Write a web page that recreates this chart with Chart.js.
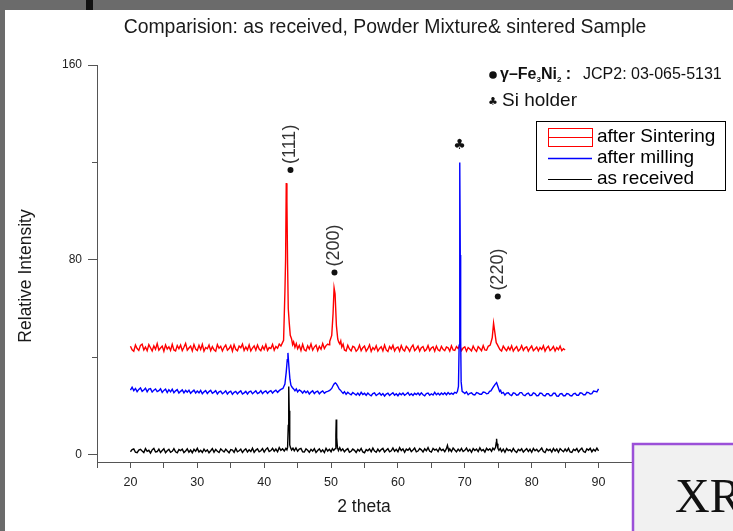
<!DOCTYPE html>
<html>
<head>
<meta charset="utf-8">
<script src="https://cdn.jsdelivr.net/npm/chart.js@4.4.1/dist/chart.umd.min.js"></script>
<style>
  html, body { margin: 0; padding: 0; background: #fff; }
  #wrap { position: relative; width: 733px; height: 531px; }
</style>
</head>
<body>
<div id="wrap"><canvas id="xrd" width="733" height="531"></canvas></div>
<script>
// 2 theta / relative intensity pairs
const asReceived = [
  [20,1.2],[20.25,2.1],[20.5,2.4],[20.75,1.0],[21,0.8],[21.25,1.9],[21.5,2.2],[21.75,1.5],[22,0.9],[22.25,2.5],
  [22.5,1.4],[22.75,1.8],[23,0.7],[23.25,2.0],[23.5,2.6],[23.75,1.1],[24,1.3],[24.25,2.3],[24.5,0.9],[24.75,1.7],
  [25,2.4],[25.25,0.8],[25.5,1.6],[25.75,2.2],[26,1.0],[26.25,1.4],[26.5,2.5],[26.75,1.2],[27,0.8],[27.25,2.1],
  [27.5,1.7],[27.75,2.3],[28,0.9],[28.25,1.5],[28.5,2.4],[28.75,1.0],[29,1.9],[29.25,0.8],[29.5,2.2],[29.75,1.4],
  [30,2.6],[30.25,1.1],[30.5,1.8],[30.75,0.9],[31,2.3],[31.25,1.3],[31.5,2.0],[31.75,0.8],[32,1.6],[32.25,2.5],
  [32.5,1.0],[32.75,2.2],[33,1.4],[33.25,0.9],[33.5,2.4],[33.75,1.7],[34,1.1],[34.25,2.3],[34.5,1.5],[34.75,0.8],
  [35,2.1],[35.25,1.9],[35.5,1.0],[35.75,2.6],[36,1.2],[36.25,1.6],[36.5,2.3],[36.75,0.9],[37,1.8],[37.25,2.4],
  [37.5,1.1],[37.75,2.0],[38,1.3],[38.25,2.7],[38.5,1.0],[38.75,1.9],[39,2.4],[39.25,1.2],[39.5,1.6],[39.75,2.5],
  [40,1.1],[40.25,2.2],[40.5,2.8],[40.75,1.3],[41,1.7],[41.25,2.6],[41.5,1.4],[41.75,2.3],[42,1.2],[42.25,2.9],
  [42.5,1.8],[42.75,2.4],[43,1.5],[43.25,2.6],[43.4,2.0],
  [43.5,3],[43.6,12],[43.67,28],[43.74,18],[43.82,4],[43.95,2.8],
  [44.1,1.9],[44.3,2.7],[44.5,1.6],[44.75,2.8],[45,1.4],[45.25,2.3],[45.5,2.6],[45.75,1.2],[46,1.1],[46.25,2.4],
  [46.5,1.8],[46.75,1.0],[47,2.2],[47.25,1.5],[47.5,2.5],[47.75,0.9],[48,1.7],[48.25,2.4],[48.5,1.2],[48.75,2.0],
  [49,0.9],[49.25,2.6],[49.5,1.5],[49.75,2.2],[50,1.2],[50.2,2.5],[50.4,1.8],
  [50.62,2.5],[50.72,8],[50.77,14.4],[50.84,7],[50.95,3],
  [51.1,1.7],[51.3,2.9],[51.5,1.6],[51.75,2.4],[52,1.2],[52.25,2.0],[52.5,2.5],[52.75,1.0],[53,1.4],[53.25,2.3],
  [53.5,1.8],[53.75,0.9],[54,2.2],[54.25,1.5],[54.5,2.6],[54.75,1.1],[55,0.8],[55.25,2.1],[55.5,1.6],[55.75,2.4],
  [56,1.2],[56.25,2.7],[56.5,1.5],[56.75,1.0],[57,2.3],[57.25,1.3],[57.5,2.1],[57.75,2.6],[58,1.1],[58.25,1.8],
  [58.5,2.5],[58.75,1.2],[59,1.6],[59.25,2.8],[59.5,1.4],[59.75,2.2],[60,1.2],[60.25,2.9],[60.5,1.7],[60.75,2.4],
  [61,1.0],[61.25,2.3],[61.5,1.8],[61.75,2.6],[62,1.3],[62.25,1.9],[62.5,2.7],[62.75,1.2],[63,1.5],[63.25,2.5],
  [63.5,2.0],[63.75,1.1],[64,2.4],[64.25,1.6],[64.5,2.9],[64.75,1.4],[65,1.1],[65.25,2.6],[65.5,1.9],[65.75,2.3],
  [66,1.3],[66.25,2.8],[66.5,1.7],[66.75,2.2],[67,1.2],[67.25,2.5],[67.4,3.8],[67.6,1.6],[67.75,2.4],[68,1.3],
  [68.25,2.7],[68.5,1.9],[68.75,1.2],[69,2.3],[69.25,1.5],[69.5,2.6],[69.75,1.3],[70,1.8],[70.25,2.7],[70.5,1.4],
  [70.75,2.2],[71,1.0],[71.25,2.5],[71.5,1.7],[71.75,2.3],[72,1.3],[72.25,2.8],[72.5,1.6],[72.75,2.1],[73,1.1],
  [73.25,2.6],[73.5,1.8],[73.75,2.4],[74,1.4],[74.2,2.7],[74.4,2.0],
  [74.6,3],[74.7,5],[74.75,6.5],[74.82,4.5],[74.95,2.6],
  [75.1,1.8],[75.3,2.6],[75.5,1.3],[75.75,2.3],[76,1.0],[76.25,2.5],[76.5,1.7],[76.75,2.1],[77,1.2],[77.25,2.6],
  [77.5,1.5],[77.75,0.9],[78,2.2],[78.25,1.6],[78.5,2.4],[78.75,1.1],[79,1.8],[79.25,2.5],[79.5,1.3],[79.75,2.2],
  [80,1.0],[80.25,2.6],[80.5,1.6],[80.75,2.2],[81,1.2],[81.25,1.9],[81.5,2.7],[81.75,1.3],[82,0.9],[82.25,2.4],
  [82.5,1.7],[82.75,2.2],[83,1.1],[83.25,2.6],[83.5,1.5],[83.75,2.3],[84,1.0],[84.25,2.5],[84.5,1.8],[84.75,1.2],
  [85,2.3],[85.25,1.4],[85.5,2.6],[85.75,1.1],[86,0.9],[86.25,2.2],[86.5,1.7],[86.75,2.5],[87,1.1],[87.25,2.0],
  [87.5,2.7],[87.75,1.3],[88,1.0],[88.25,2.4],[88.5,1.8],[88.75,2.6],[89,1.2],[89.25,2.2],[89.5,1.5],[89.75,2.7],[90,1.6]
];

const afterMilling = [
  [20,26.5],[20.25,27.7],[20.5,26.3],[20.75,27.2],[21,25.9],[21.25,26.8],[21.5,27.4],[21.75,26.0],[22,26.6],[22.25,27.3],
  [22.5,25.8],[22.75,26.9],[23,27.1],[23.25,25.7],[23.5,26.5],[23.75,27.0],[24,25.9],[24.25,26.3],[24.5,27.1],[24.75,25.6],
  [25,26.4],[25.25,26.9],[25.5,25.5],[25.75,26.7],[26,25.8],[26.25,26.9],[26.5,25.4],[26.75,26.2],[27,26.7],[27.25,25.3],
  [27.5,26.0],[27.75,26.6],[28,25.4],[28.25,26.4],[28.5,25.7],[28.75,26.5],[29,25.2],[29.25,25.9],[29.5,26.5],[29.75,25.3],
  [30,26.1],[30.25,25.4],[30.5,26.4],[30.75,25.0],[31,25.8],[31.25,26.3],[31.5,25.1],[31.75,25.9],[32,26.4],[32.25,25.2],
  [32.5,25.7],[32.75,26.3],[33,24.9],[33.25,25.8],[33.5,26.1],[33.75,25.0],[34,25.5],[34.25,26.2],[34.5,24.9],[34.75,25.7],
  [35,26.1],[35.25,24.8],[35.5,25.6],[35.75,26.0],[36,25.0],[36.25,25.7],[36.5,26.2],[36.75,24.9],[37,25.4],[37.25,26.0],
  [37.5,24.9],[37.75,25.8],[38,26.1],[38.25,25.0],[38.5,25.6],[38.75,26.2],[39,25.1],[39.25,25.5],[39.5,26.3],[39.75,25.1],
  [40,25.8],[40.25,26.2],[40.5,25.2],[40.75,25.9],[41,26.3],[41.25,25.3],[41.5,26.0],[41.75,26.5],[42,25.6],[42.25,26.3],[42.5,26.8],
  [42.8,27.2],[43.1,29],[43.3,34],[43.45,39],[43.55,41.8],[43.7,36],[43.85,31],[44,28.5],[44.2,27.6],[44.4,27],
  [44.6,26.2],[44.8,27],[45,25.8],[45.25,26.6],[45.5,26.1],[45.75,25.3],[46,26.2],[46.25,25.4],[46.5,26.1],[46.75,24.9],
  [47,25.7],[47.25,26.2],[47.5,25.1],[47.75,25.8],[48,26.1],[48.25,25.0],[48.5,25.7],[48.75,26.2],[49,25.2],[49.25,25.8],[49.5,26.0],
  [49.8,26.4],[50.1,27.2],[50.35,28.6],[50.5,29.2],[50.65,29.5],[50.8,29.1],[50.95,28.4],[51.2,27],[51.4,26.5],[51.6,25.8],
  [51.8,25.2],[52,25.9],[52.25,24.8],[52.5,25.6],[52.75,25.0],[53,24.6],[53.25,25.5],[53.5,25.0],[53.75,24.5],[54,25.3],
  [54.25,24.4],[54.5,25.6],[54.75,24.7],[55,25.2],[55.25,24.4],[55.5,25.3],[55.75,24.6],[56,24.2],[56.25,25.1],[56.5,25.4],
  [56.75,24.3],[57,24.8],[57.25,25.3],[57.5,24.4],[57.75,25.1],[58,24.1],[58.25,24.9],[58.5,25.3],[58.75,24.3],[59,24.9],
  [59.25,25.4],[59.5,24.4],[59.75,25.0],[60,24.2],[60.25,25.2],[60.5,24.6],[60.75,25.3],[61,24.4],[61.25,24.9],[61.5,25.5],
  [61.75,24.4],[62,25.0],[62.25,24.3],[62.5,25.2],[62.75,24.7],[63,25.3],[63.25,24.5],[63.5,25.4],[63.75,24.6],[64,24.2],
  [64.25,25.1],[64.5,25.3],[64.75,24.4],[65,25.0],[65.25,24.5],[65.5,25.6],[65.75,24.6],[66,25.2],[66.25,24.5],[66.5,25.3],
  [66.75,24.7],[67,25.4],[67.25,24.6],[67.5,25.5],[67.75,24.8],[68,25.3],[68.25,24.8],[68.5,25.6],[68.75,25.3],
  [68.9,26],[69.05,28],[69.15,45],[69.22,65],[69.27,120],[69.32,82],[69.38,48],[69.45,30],[69.6,26],
  [69.8,25.6],[70,25.1],[70.25,25.8],[70.5,24.6],[70.75,25.2],[71,25.4],[71.25,24.7],[71.5,24.5],[71.75,25.5],[72,25.3],
  [72.25,24.8],[72.5,24.8],[72.75,25.7],[73,25.6],[73.25,25.0],[73.5,25.2],[73.7,26.0],
  [73.9,26.2],[74.2,27.5],[74.5,28.8],[74.75,29.6],[74.95,28],[75.2,26],[75.35,26.4],[75.5,25.2],
  [75.75,25.6],[76,24.5],[76.25,25.3],[76.5,25.4],[76.75,24.6],[77,24.3],[77.25,25.4],[77.5,25.2],[77.75,24.4],[78,24.6],
  [78.25,25.5],[78.5,25.5],[78.75,24.5],[79,24.2],[79.25,25.0],[79.5,25.3],[79.75,24.3],[80,24.4],[80.25,25.4],[80.5,25.1],
  [80.75,24.2],[81,24.3],[81.25,25.3],[81.5,25.2],[81.75,24.3],[82,24.1],[82.25,25.0],[82.5,25],[82.75,24.2],[83,24.3],
  [83.25,25.2],[83.5,25.2],[83.75,24.1],[84,24],[84.25,25.0],[84.5,25.1],[84.75,24.2],[85,24.2],[85.25,25.1],[85.5,25],
  [85.75,24.3],[86,24.1],[86.25,25.0],[86.5,25.2],[86.75,24.4],[87,24.4],[87.25,25.4],[87.5,25.3],[87.75,24.6],[88,24.6],
  [88.25,25.6],[88.5,25.5],[88.75,24.9],[89,25.1],[89.25,26.1],[89.5,26],[89.75,25.8],[90,27]
];

const afterSintering = [
  [20,44.5],[20.25,43.1],[20.5,42.5],[20.75,45.0],[21,43.6],[21.25,42.8],[21.5,44.9],[21.75,45.4],[22,43.0],[22.25,44.2],
  [22.5,42.7],[22.75,45.2],[23,43.9],[23.25,42.6],[23.5,44.7],[23.75,43.3],[24,45.6],[24.25,42.9],[24.5,43.8],[24.75,44.6],
  [25,42.5],[25.25,45.1],[25.5,43.4],[25.75,44.3],[26,42.8],[26.25,45.3],[26.5,43.0],[26.75,42.6],[27,44.8],[27.25,43.5],
  [27.5,45.0],[27.75,42.7],[28,44.1],[28.25,45.7],[28.5,42.9],[28.75,43.8],[29,44.6],[29.25,42.6],[29.5,45.2],[29.75,43.4],
  [30,42.8],[30.25,44.9],[30.5,43.2],[30.75,45.3],[31,42.5],[31.25,44.0],[31.5,43.5],[31.75,45.0],[32,42.7],[32.25,44.4],
  [32.5,43.1],[32.75,42.5],[33,45.2],[33.25,43.7],[33.5,44.5],[33.75,42.6],[34,44.1],[34.25,45.0],[34.5,42.9],[34.75,43.6],
  [35,44.8],[35.25,42.5],[35.5,45.1],[35.75,43.3],[36,42.7],[36.25,44.6],[36.5,43.9],[36.75,45.4],[37,42.8],[37.25,44.2],
  [37.5,43.0],[37.75,45.1],[38,42.6],[38.25,43.8],[38.5,44.7],[38.75,42.9],[39,45.0],[39.25,43.4],[39.5,42.7],[39.75,44.5],
  [40,43.2],[40.25,45.2],[40.5,42.8],[40.75,44.0],[41,43.6],[41.25,45.3],[41.5,42.9],[41.75,44.4],[42,43.7],[42.25,45.4],
  [42.5,44.6],[42.7,45.8],
  [42.9,47],[43.1,67],[43.2,80],[43.3,111.5],[43.4,104],[43.5,78],[43.6,60],[43.75,54],[43.9,49],[44.1,47.5],
  [44.25,45.2],[44.4,46.3],[44.6,44.1],
  [44.8,45.6],[45,43.5],[45.25,44.9],[45.5,42.8],[45.75,45.3],[46,43.1],[46.25,42.6],[46.5,44.7],[46.75,43.4],[47,45.5],
  [47.25,42.9],[47.5,44.2],[47.75,45.0],[48,42.7],[48.25,44.5],[48.5,43.3],[48.75,45.6],[49,43.6],[49.25,44.8],[49.5,45.4],
  [49.7,45.1],[49.8,46.5],[50.1,49],[50.3,58],[50.45,68.5],[50.6,66],[50.8,53],[51,47.5],[51.15,46.2],[51.3,45.5],[51.45,46.7],
  [51.6,44.2],[51.8,45.4],[52,43.0],[52.25,42.6],[52.5,44.9],[52.75,43.4],[53,42.6],[53.25,44.5],[53.5,44.1],[53.75,42.5],
  [54,43.2],[54.25,45.0],[54.5,42.7],[54.75,43.9],[55,44.6],[55.25,42.5],[55.5,43.5],[55.75,45.1],[56,42.4],[56.25,44.0],
  [56.5,43.1],[56.75,44.7],[57,42.5],[57.25,43.6],[57.5,44.3],[57.75,42.6],[58,45.0],[58.25,43.0],[58.5,42.4],[58.75,44.4],
  [59,43.4],[59.25,44.9],[59.5,42.6],[59.75,43.8],[60,44.2],[60.25,42.5],[60.5,44.8],[60.75,43.2],[61,42.6],[61.25,44.5],
  [61.5,43.7],[61.75,42.4],[62,44.1],[62.25,45.0],[62.5,42.7],[62.75,43.5],[63,44.6],[63.25,42.5],[63.5,43.9],[63.75,44.4],
  [64,42.6],[64.25,43.2],[64.5,44.8],[64.75,42.7],[65,43.8],[65.25,44.3],[65.5,42.5],[65.75,44.6],[66,43.1],[66.25,42.6],
  [66.5,44.5],[66.75,43.3],[67,42.7],[67.25,44.2],[67.5,43.9],[67.75,42.5],[68,44.7],[68.25,43.0],[68.5,42.8],[68.75,44.4],
  [69,43.6],[69.25,44.9],[69.5,42.7],[69.75,43.8],[70,44.3],[70.25,42.5],[70.5,44.0],[70.75,43.4],[71,42.6],[71.25,44.6],
  [71.5,43.2],[71.75,42.4],[72,44.4],[72.25,43.6],[72.5,42.7],[72.75,44.8],[73,43.0],[73.25,42.9],[73.5,44.5],
  [73.8,45],[74.1,48],[74.3,54],[74.5,50],[74.7,46],[74.85,45.3],[75,44.5],
  [75.25,43.2],[75.5,42.6],[75.75,44.6],[76,43.5],[76.25,42.7],[76.5,44.2],[76.75,43.0],[77,44.7],[77.25,42.5],[77.5,43.6],
  [77.75,44.4],[78,42.6],[78.25,43.3],[78.5,44.8],[78.75,42.8],[79,43.9],[79.25,44.3],[79.5,42.5],[79.75,43.7],[80,44.6],
  [80.25,42.7],[80.5,43.4],[80.75,44.2],[81,42.6],[81.25,44.0],[81.5,43.2],[81.75,44.7],[82,42.5],[82.25,43.8],[82.5,44.5],
  [82.75,42.8],[83,43.4],[83.25,44.4],[83.5,42.6],[83.75,44.0],[84,43.1],[84.25,44.6],[84.5,42.7],[84.75,43.5],[85,43.0]
];

const seriesNames = ['after Sintering', 'after milling', 'as received'];
const seriesColors = ['#ff0000', '#0000ff', '#000000'];

// reflection markers (hkl), dot position in data units
const peakLabels = ['(111)', '(200)', '(220)'];
const peakTheta = [43.93, 50.51, 74.93];
const peakMarkY = [116.9, 74.8, 64.9];
const siTheta = 69.2;
const siMarkY = 127.2;

const yTicks = [0, 40, 80, 120, 160];
const yMinor = [40, 120];

const chartTitle = 'Comparision: as received, Powder Mixture& sintered Sample';
const xTitle = '2 theta';
const yTitle = 'Relative Intensity';

const SANS = '"Liberation Sans", Arial, sans-serif';

const toXY = pts => pts.map(p => ({ x: p[0], y: p[1] }));

const decor = {
  id: 'decor',
  beforeDraw(chart) {
    const c = chart.ctx;
    c.save();
    c.fillStyle = '#fff';
    c.fillRect(0, 0, chart.width, chart.height);
    c.restore();
  },
  afterDraw(chart) {
    const c = chart.ctx;
    const xs = chart.scales.x, ys = chart.scales.y;
    const area = chart.chartArea;
    c.save();

    // short minor ticks on y
    c.strokeStyle = '#555';
    c.lineWidth = 1;
    yMinor.forEach(v => {
      const py = Math.round(ys.getPixelForValue(v)) + 0.5;
      c.beginPath();
      c.moveTo(area.left - 5, py);
      c.lineTo(area.left, py);
      c.stroke();
    });

    // titles
    c.fillStyle = '#1a1a1a';
    c.textAlign = 'center';
    c.textBaseline = 'middle';
    c.font = '19.4px ' + SANS;
    c.fillText(chartTitle, 385, 28);
    c.font = '17.5px ' + SANS;
    c.fillText(xTitle, 364, 507);
    c.save();
    c.translate(26, 276);
    c.rotate(-Math.PI / 2);
    c.fillText(yTitle, 0, 0);
    c.restore();

    // hkl markers
    c.fillStyle = '#111';
    c.font = '18px ' + SANS;
    peakTheta.forEach((t, i) => {
      const px = xs.getPixelForValue(t), py = ys.getPixelForValue(peakMarkY[i]);
      c.beginPath();
      c.arc(px, py, 3, 0, Math.PI * 2);
      c.fill();
      c.save();
      c.fillStyle = '#333';
      c.translate(px, py - 6);
      c.rotate(-Math.PI / 2);
      c.textAlign = 'left';
      c.textBaseline = 'middle';
      c.fillText(peakLabels[i], 0, 0);
      c.restore();
    });
    c.font = '14px "DejaVu Sans", sans-serif';
    c.fillText('\u2663', xs.getPixelForValue(siTheta), ys.getPixelForValue(siMarkY));

    // phase key
    c.textAlign = 'left';
    c.beginPath();
    c.arc(493, 75, 3.8, 0, Math.PI * 2);
    c.fill();
    let x = 500;
    const part = (txt, font, dy) => {
      c.font = font;
      c.fillText(txt, x, 75 + dy);
      x += c.measureText(txt).width;
    };
    part('\u03b3\u2013Fe', 'bold 16px ' + SANS, 0);
    part('3', 'bold 8px ' + SANS, 5);
    part('Ni', 'bold 16px ' + SANS, 0);
    part('2', 'bold 8px ' + SANS, 5);
    part(' :', 'bold 16px ' + SANS, 0);
    c.font = '16px ' + SANS;
    c.fillText('JCP2: 03-065-5131', 583, 75);
    c.font = '11px "DejaVu Sans", sans-serif';
    c.textAlign = 'center';
    c.fillText('\u2663', 493, 102);
    c.textAlign = 'left';
    c.font = '19px ' + SANS;
    c.fillText('Si holder', 502, 101);

    // series legend box
    c.strokeStyle = '#000';
    c.lineWidth = 1;
    c.strokeRect(536.5, 121.5, 189, 69);
    const rows = [137, 158, 179];
    c.strokeStyle = seriesColors[0];
    c.strokeRect(548.5, 128.5, 44, 18);
    rows.forEach((ry, i) => {
      c.strokeStyle = seriesColors[i];
      c.lineWidth = i === 1 ? 1.5 : 1;
      c.beginPath();
      c.moveTo(548, ry + 0.5);
      c.lineTo(592, ry + 0.5);
      c.stroke();
      c.fillStyle = '#000';
      c.font = '19px ' + SANS;
      c.fillText(seriesNames[i], 597, ry);
    });

    // slide frame bits around the screenshot
    c.fillStyle = '#6b6b6b';
    c.fillRect(0, 0, chart.width, 10);
    c.fillRect(0, 0, 5, chart.height);
    c.fillStyle = '#111';
    c.fillRect(86, 0, 7, 10);

    // overlapping text box of the slide
    c.fillStyle = '#f1f1f1';
    c.fillRect(633, 444, 110, 100);
    c.strokeStyle = '#9b50d8';
    c.lineWidth = 2.5;
    c.strokeRect(633, 444, 110, 100);
    c.fillStyle = '#111';
    c.textBaseline = 'alphabetic';
    c.font = '48px "Liberation Serif", "Times New Roman", serif';
    c.fillText('XR', 675, 512);

    c.restore();
  }
};

new Chart(document.getElementById('xrd'), {
  type: 'line',
  data: {
    datasets: [
      { label: seriesNames[0], data: toXY(afterSintering), borderColor: seriesColors[0], order: 2 },
      { label: seriesNames[1], data: toXY(afterMilling), borderColor: seriesColors[1], order: 0 },
      { label: seriesNames[2], data: toXY(asReceived), borderColor: seriesColors[2], order: 1 }
    ]
  },
  options: {
    responsive: false,
    animation: false,
    events: [],
    layout: { padding: { top: 65, right: 101, bottom: 0, left: 0 } },
    elements: {
      line: { borderWidth: 1.4, tension: 0 },
      point: { radius: 0 }
    },
    plugins: { legend: { display: false }, tooltip: { enabled: false } },
    scales: {
      x: {
        type: 'linear',
        min: 15,
        max: 95,
        afterFit: s => { s.height = 69; },
        border: { color: '#555', width: 1 },
        grid: { drawOnChartArea: false, tickLength: 6, color: '#555' },
        ticks: {
          stepSize: 5,
          autoSkip: false,
          maxRotation: 0,
          padding: 7,
          color: '#222',
          font: { family: SANS, size: 12.5 },
          callback: v => (v % 10 === 0 ? v : '')
        }
      },
      y: {
        min: -3,
        max: 160,
        afterFit: s => { s.width = 97; },
        afterBuildTicks: s => { s.ticks = yTicks.map(v => ({ value: v })); },
        border: { color: '#555', width: 1 },
        grid: {
          drawOnChartArea: false,
          tickLength: 9,
          tickColor: ctx => (yMinor.includes(ctx.tick && ctx.tick.value) ? 'rgba(0,0,0,0)' : '#555')
        },
        ticks: {
          padding: 6,
          color: '#222',
          font: { family: SANS, size: 12 },
          callback: v => (v % 80 === 0 ? v : '')
        }
      }
    }
  },
  plugins: [decor]
});
</script>
</body>
</html>
